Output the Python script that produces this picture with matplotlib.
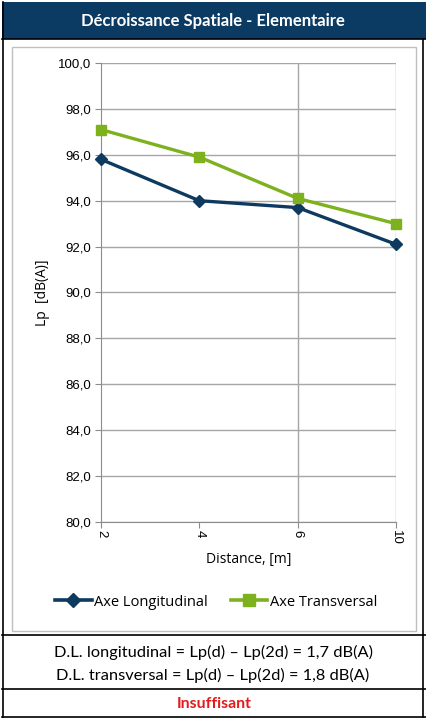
import matplotlib
matplotlib.use("Agg")
import matplotlib.pyplot as plt
from matplotlib.patches import Rectangle
from matplotlib.lines import Line2D
from matplotlib.ticker import FuncFormatter

categories = ["2", "4", "6", "10"]
longitudinal = [95.8, 94.0, 93.7, 92.1]
transversal = [97.1, 95.9, 94.1, 93.0]
yticks = [80, 82, 84, 86, 88, 90, 92, 94, 96, 98, 100]
title = "Décroissance Spatiale - Elementaire"
line1 = "D.L. longitudinal = Lp(d) \u2013 Lp(2d) = 1,7 dB(A)"
line2 = "D.L. transversal = Lp(d) \u2013 Lp(2d) = 1,8 dB(A)"
verdict = "Insuffisant"

W, H = 426, 719
NAVY = "#0E3A5F"
GREEN = "#7DB11E"
GRID = "#A6A6A6"
FONT = ["Lato", "DejaVu Sans"]

fig = plt.figure(figsize=(W / 100, H / 100), dpi=100)
fig.patch.set_facecolor("white")

def fx(px):
    return px / W

def fy(py):
    return 1 - py / H

deco = fig.add_axes([0, 0, 1, 1], zorder=0)
deco.set_xlim(0, W)
deco.set_ylim(H, 0)
deco.axis("off")
deco.add_patch(Rectangle((2, 2), W - 2, 37, facecolor="#0B3A62", edgecolor="none"))
deco.add_patch(Rectangle((12, 47), 404, 584, facecolor="white", edgecolor="#BFBFBF", lw=1))
for yy in (39, 635, 689, 717):
    deco.plot([2, W], [yy, yy], color="black", lw=1.2)
deco.plot([2.5, 2.5], [2, 717], color="black", lw=1.2)
deco.plot([423, 423], [39, 717], color="black", lw=1.2)
deco.text(W / 2, 21, title, color="white", fontsize=12, fontweight="bold",
          ha="center", va="center", family=FONT)
deco.text(213, 652, line1, fontsize=11.8, ha="center", va="center", family=FONT)
deco.text(213, 675, line2, fontsize=11.8, ha="center", va="center", family=FONT)
deco.text(214, 704, verdict, fontsize=11.3, fontweight="bold", color="#E31B1B",
          ha="center", va="center", family=FONT)

left, right, top, bottom = 101, 396, 63, 522
ax = fig.add_axes([fx(left), fy(bottom), fx(right - left), (bottom - top) / H], zorder=2)
ax.patch.set_alpha(0)
x = list(range(len(categories)))
ax.plot(x, longitudinal, color=NAVY, lw=2.4, marker="D", markersize=6.5, clip_on=False, zorder=4)
ax.plot(x, transversal, color=GREEN, lw=2.4, marker="s", markersize=7.5, clip_on=False, zorder=4)
ax.set_xlim(0, len(categories) - 1)
ax.set_ylim(80, 100)
ax.set_yticks(yticks)
ax.yaxis.set_major_formatter(FuncFormatter(lambda v, p: f"{v:.1f}".replace(".", ",")))
ax.set_xticks(x)
ax.set_xticklabels(categories, rotation=270)
ax.grid(axis="y", color=GRID, lw=1)
for xv in x[2:]:
    ax.axvline(xv, color=GRID, lw=1, zorder=1)
for s in ("top", "right"):
    ax.spines[s].set_visible(False)
ax.spines["left"].set_color("#8C8C8C")
ax.spines["bottom"].set_color("#8C8C8C")
ax.tick_params(axis="both", colors="#8C8C8C", labelcolor="black", labelsize=9.5, length=4, direction="out")
ax.tick_params(axis="x", pad=2)
ax.tick_params(axis="y", pad=3)
for lab in ax.get_yticklabels() + ax.get_xticklabels():
    lab.set_family(["Liberation Sans", "DejaVu Sans"])
ax.set_xlabel("Distance, [m]", fontsize=10, labelpad=5, family=["Open Sans", "DejaVu Sans"])
ax.set_ylabel("Lp  [dB(A)]", fontsize=10, labelpad=6, family=["Open Sans", "DejaVu Sans"])

handles = [
    Line2D([], [], color=NAVY, lw=2.6, marker="D", markersize=7),
    Line2D([], [], color=GREEN, lw=2.6, marker="s", markersize=8),
]
fig.legend(handles, ["Axe Longitudinal", "Axe Transversal"], ncol=2, loc="center",
           bbox_to_anchor=(fx(216), fy(602)), frameon=False,
           handlelength=2.5, handletextpad=0.15, columnspacing=1.6,
           prop={"family": ["Open Sans", "DejaVu Sans"], "size": 10.5})

fig.savefig("out.png", dpi=100)
